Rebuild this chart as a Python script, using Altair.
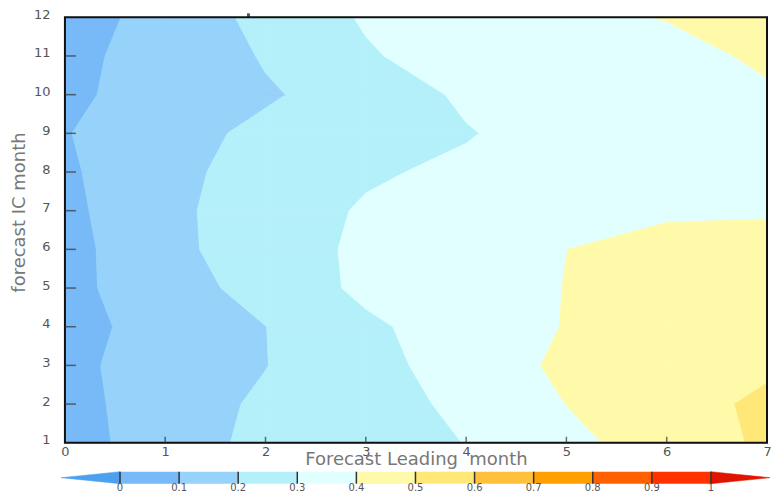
import altair as alt
import pandas as pd

# ---------------- data ----------------
lead_months = [0, 1, 2, 3, 4, 5, 6, 7]
ic_months = [1, 2, 3, 4, 5, 6, 7, 8, 9, 10, 11, 12]

skill_ic01 = [0.049, 0.160, 0.2215, 0.258, 0.302, 0.375, 0.446, 0.515]
skill_ic02 = [0.058, 0.160, 0.213, 0.265, 0.318, 0.401, 0.460, 0.519]
skill_ic03 = [0.079, 0.138, 0.198, 0.268, 0.342, 0.420, 0.455, 0.484]
skill_ic04 = [0.069, 0.134, 0.199, 0.283, 0.346, 0.404, 0.440, 0.460]
skill_ic05 = [0.074, 0.154, 0.237, 0.320, 0.357, 0.402, 0.430, 0.450]
skill_ic06 = [0.066, 0.175, 0.248, 0.320, 0.356, 0.3995, 0.430, 0.440]
skill_ic07 = [0.075, 0.179, 0.245, 0.311, 0.350, 0.370, 0.387, 0.389]
skill_ic08 = [0.086, 0.168, 0.245, 0.287, 0.320, 0.350, 0.370, 0.380]
skill_ic09 = [0.0943, 0.1755, 0.215, 0.255, 0.293, 0.347, 0.360, 0.380]
skill_ic10 = [0.0825, 0.137, 0.192, 0.232, 0.318, 0.340, 0.360, 0.385]
skill_ic11 = [0.0711, 0.1433, 0.2063, 0.290, 0.345, 0.350, 0.360, 0.420]
skill_ic12 = [0.051, 0.1386, 0.2266, 0.310, 0.339, 0.372, 0.405, 0.440]

contour_levels = [0.0, 0.1, 0.2, 0.3, 0.4, 0.5, 0.6, 0.7, 0.8, 0.9, 1.0]
level_labels = ["0", "0.1", "0.2", "0.3", "0.4", "0.5", "0.6", "0.7", "0.8", "0.9", "1"]
band_colors = ["#4ba0f0", "#78b9f8", "#96d2fa", "#b4f0fa", "#e1ffff", "#fffaaa",
               "#ffe878", "#ffc03c", "#ffa000", "#ff6000", "#ff3200", "#e11400"]

marker_lead = [1.83]

# ---------------- filled contour polygons (linear along cell edges) ----------------
rows = [skill_ic01, skill_ic02, skill_ic03, skill_ic04, skill_ic05, skill_ic06,
        skill_ic07, skill_ic08, skill_ic09, skill_ic10, skill_ic11, skill_ic12]


def clip_poly(poly, level, keep_above):
    out = []
    n = len(poly)
    for idx in range(n):
        a = poly[idx]
        b = poly[(idx + 1) % n]
        a_in = (a[2] >= level) if keep_above else (a[2] <= level)
        b_in = (b[2] >= level) if keep_above else (b[2] <= level)
        if a_in:
            out.append(a)
        if a_in != b_in:
            t = (level - a[2]) / (b[2] - a[2])
            out.append((a[0] + t * (b[0] - a[0]), a[1] + t * (b[1] - a[1]), level))
    return out


def poly_area(poly):
    s = 0.0
    for p, q in zip(poly, poly[1:] + poly[:1]):
        s += p[0] * q[1] - q[0] * p[1]
    return abs(s) / 2


bounds = [-1e9] + contour_levels + [1e9]
recs = []
pid = 0
for j in range(len(ic_months) - 1):
    for i in range(len(lead_months) - 1):
        quad = [
            (lead_months[i], ic_months[j], rows[j][i]),
            (lead_months[i + 1], ic_months[j], rows[j][i + 1]),
            (lead_months[i + 1], ic_months[j + 1], rows[j + 1][i + 1]),
            (lead_months[i], ic_months[j + 1], rows[j + 1][i]),
        ]
        for b in range(len(bounds) - 1):
            p = clip_poly(quad, bounds[b], True)
            if len(p) >= 3:
                p = clip_poly(p, bounds[b + 1], False)
            if len(p) >= 3 and poly_area(p) > 1e-6:
                for k, v in enumerate(p + [p[0]]):
                    recs.append({"poly": pid, "k": k, "lead": v[0], "ic": v[1], "band": b})
                pid += 1
contour_df = pd.DataFrame(recs)

W, H = 703, 426
FONT = "DejaVu Sans"

xscale = alt.Scale(domain=[lead_months[0], lead_months[-1]], nice=False, zero=False)
yscale = alt.Scale(domain=[ic_months[0], ic_months[-1]], nice=False, zero=False)
fill_scale = alt.Scale(domain=list(range(len(band_colors))), range=band_colors)

x_axis = alt.Axis(values=lead_months, title="Forecast Leading\u00a0 month", grid=False,
                  ticks=False, domain=False, labelFlush=False, labelOverlap=False,
                  format="d",
                  labelFontSize=13, labelColor="#555", labelFont=FONT, labelPadding=3,
                  titleFont=FONT, titleFontSize=18, titleFontWeight="normal",
                  titleColor="#777", titleY=22, titleBaseline="alphabetic")
y_axis = alt.Axis(values=ic_months, title="forecast IC month", grid=False,
                  ticks=False, domain=False, labelFlush=False, labelOverlap=False,
                  format="d", labelOffset=-3,
                  labelFontSize=13, labelColor="#555", labelFont=FONT, labelPadding=15,
                  titleFont=FONT, titleFontSize=18, titleFontWeight="normal",
                  titleColor="#777", titleX=-45, titleY=195, titleBaseline="middle")

contours = alt.Chart(contour_df).mark_line(clip=True, strokeWidth=0.8, strokeJoin="round").encode(
    x=alt.X("lead:Q", scale=xscale, axis=x_axis),
    y=alt.Y("ic:Q", scale=yscale, axis=y_axis),
    detail="poly:N",
    order="k:Q",
    fill=alt.Fill("band:O", scale=fill_scale, legend=None),
    stroke=alt.Stroke("band:O", scale=fill_scale, legend=None),
)

frame = alt.Chart(pd.DataFrame({"a": [0]})).mark_rect(
    filled=False, stroke="#111", strokeWidth=2
).encode(x=alt.value(0), x2=alt.value(W), y=alt.value(0), y2=alt.value(H))

ytick_df = pd.DataFrame({"ic": ic_months[1:-1]})
yticks = alt.Chart(ytick_df).mark_tick(orient="horizontal", size=11, thickness=1.5, color="#333").encode(
    x=alt.value(5.5),
    y=alt.Y("ic:Q", scale=yscale, axis=y_axis),
)

xtick_df = pd.DataFrame({"lead": lead_months[1:-1]})
xticks = alt.Chart(xtick_df).mark_tick(orient="vertical", size=6, thickness=1.5, color="#333").encode(
    x=alt.X("lead:Q", scale=xscale, axis=x_axis),
    y=alt.value(H - 3),
)

marker = alt.Chart(pd.DataFrame({"lead": marker_lead})).mark_tick(
    orient="vertical", size=4, thickness=3, color="#111", clip=False
).encode(
    x=alt.X("lead:Q", scale=xscale, axis=x_axis),
    y=alt.value(-2),
)

main = alt.layer(contours, frame, yticks, xticks, marker)

# ---------------- colour bar (own scales, below the plot) ----------------
cbx = alt.Scale(domain=[-0.1, 1.1], range=[-4, 706], nice=False, zero=False)
cby = alt.Scale(domain=[0, 1], range=[467, 455], nice=False, zero=False)

box_df = pd.DataFrame({
    "lo": contour_levels[:-1],
    "hi": contour_levels[1:],
    "b0": [0] * (len(contour_levels) - 1),
    "b1": [1] * (len(contour_levels) - 1),
    "band": list(range(1, len(contour_levels))),
})
boxes = alt.Chart(box_df).mark_rect().encode(
    x=alt.X("lo:Q", scale=cbx, axis=None),
    x2="hi:Q",
    y=alt.Y("b0:Q", scale=cby, axis=None),
    y2="b1:Q",
    fill=alt.Fill("band:O", scale=fill_scale, legend=None),
)

lo_lv, hi_lv = contour_levels[0], contour_levels[-1]
tri_df = pd.DataFrame([
    {"tri": 0, "k": 0, "v": lo_lv - 0.1, "w": 0.5, "band": 0},
    {"tri": 0, "k": 1, "v": lo_lv, "w": 1, "band": 0},
    {"tri": 0, "k": 2, "v": lo_lv, "w": 0, "band": 0},
    {"tri": 0, "k": 3, "v": lo_lv - 0.1, "w": 0.5, "band": 0},
    {"tri": 1, "k": 0, "v": hi_lv + 0.1, "w": 0.5, "band": 11},
    {"tri": 1, "k": 1, "v": hi_lv, "w": 1, "band": 11},
    {"tri": 1, "k": 2, "v": hi_lv, "w": 0, "band": 11},
    {"tri": 1, "k": 3, "v": hi_lv + 0.1, "w": 0.5, "band": 11},
])
arrows = alt.Chart(tri_df).mark_line(strokeWidth=0.5).encode(
    x=alt.X("v:Q", scale=cbx, axis=None),
    y=alt.Y("w:Q", scale=cby, axis=None),
    detail="tri:N",
    order="k:Q",
    fill=alt.Fill("band:O", scale=fill_scale, legend=None),
    stroke=alt.Stroke("band:O", scale=fill_scale, legend=None),
)

sep_df = pd.DataFrame({"lv": contour_levels, "b0": [0] * len(contour_levels),
                       "b1": [1] * len(contour_levels), "lab": level_labels})
seps = alt.Chart(sep_df).mark_rule(color="#333", strokeWidth=1.5).encode(
    x=alt.X("lv:Q", scale=cbx, axis=None),
    y=alt.Y("b0:Q", scale=cby, axis=None),
    y2="b1:Q",
)
labels = alt.Chart(sep_df).mark_text(fontSize=10, color="#555", font=FONT, baseline="middle").encode(
    x=alt.X("lv:Q", scale=cbx, axis=None),
    y=alt.value(471.5),
    text="lab:N",
)

colorbar = alt.layer(boxes, arrows, seps, labels)

chart = alt.layer(main, colorbar).resolve_scale(
    x="independent", y="independent"
).properties(
    width=W, height=H,
    padding={"left": 57, "top": 9, "right": 4, "bottom": 51},
    autosize=alt.AutoSizeParams(type="none"),
).configure_view(stroke=None).configure(font=FONT).configure_axis(labelOverlap=False)

chart.save("out.html", embed_options={"renderer": "svg", "actions": False})
